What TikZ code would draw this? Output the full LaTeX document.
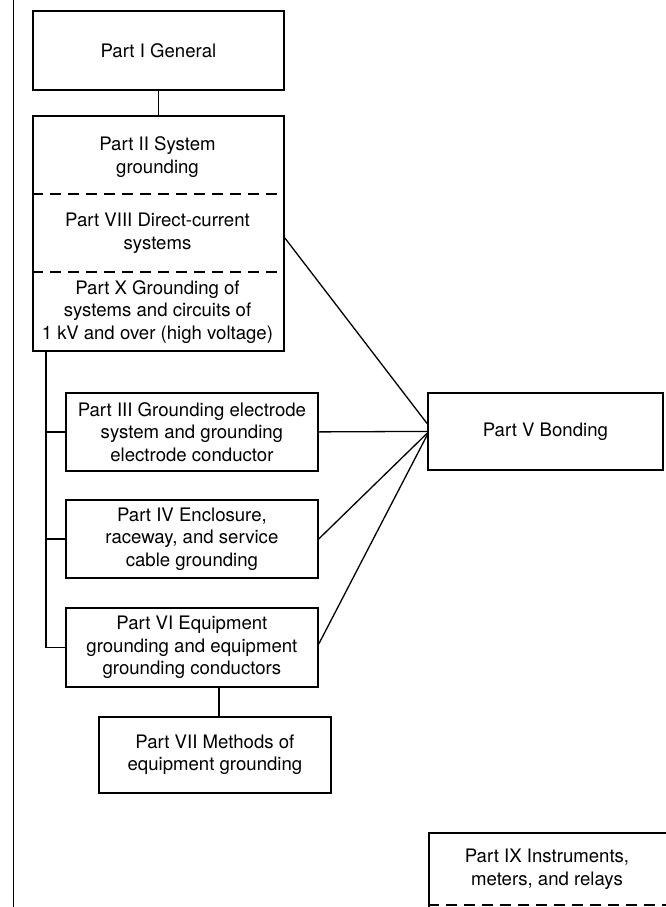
\documentclass[tikz,border=0pt]{standalone}
\usepackage{fontspec}
\setmainfont{TeX Gyre Heros}
\begin{document}
\begin{tikzpicture}[x=1pt,y=-1pt,
  box/.style={draw, line width=1.8pt, rectangle, inner sep=0pt},
  txt/.style={align=center, inner sep=0pt, font=\fontsize{18.6}{22.5}\selectfont},
  conn/.style={line width=1.3pt},
  divider/.style={line width=1.4pt, dash pattern=on 11pt off 7pt}]
\useasboundingbox (0,0) rectangle (665,907);
% left margin line
\coordinate (lt) at (13,0);
\coordinate (lb) at (13,907);
\draw[line width=0.9pt] (lt) -- (lb);
% Part I
\node[box, minimum width=251pt, minimum height=79pt, anchor=north west] (p1) at (32,10) {};
\node[txt] (t1) at (p1.center) {Part I General};
% Part II / VIII / X combined box
\node[box, minimum width=251pt, minimum height=235pt, anchor=north west] (p2) at (32,115) {};
\coordinate (d1a) at (32,194); \coordinate (d1b) at (283,194);
\coordinate (d2a) at (32,272); \coordinate (d2b) at (283,272);
\draw[divider] (d1a) -- (d1b);
\draw[divider] (d2a) -- (d2b);
\node[txt] (t2) at (157.5,157) {Part II System\\grounding};
\node[txt] (t8) at (157.5,233) {Part VIII Direct-current\\systems};
\node[txt] (t10) at (157.5,312) {Part X Grounding of\\systems and circuits of\\1 kV and over (high voltage)};
% Part III, IV, VI
\node[box, minimum width=252pt, minimum height=78pt, anchor=north west] (p3) at (65,392) {};
\node[txt] (t3) at (p3.center) {Part III Grounding electrode\\system and grounding\\electrode conductor};
\node[box, minimum width=252pt, minimum height=78pt, anchor=north west] (p4) at (65,499) {};
\node[txt] (t4) at (p4.center) {Part IV Enclosure,\\raceway, and service\\cable grounding};
\node[box, minimum width=252pt, minimum height=79pt, anchor=north west] (p6) at (65,607) {};
\node[txt] (t6) at (p6.center) {Part VI Equipment\\grounding and equipment\\grounding conductors};
% Part VII
\node[box, minimum width=232pt, minimum height=76pt, anchor=north west] (p7) at (98,716) {};
\node[txt] (t7) at (p7.center) {Part VII Methods of\\equipment grounding};
% Part V
\node[box, minimum width=235pt, minimum height=77pt, anchor=north west] (p5) at (427,392) {};
\node[txt] (t5) at (p5.center) {Part V Bonding};
% Part IX (cut off by page)
\node[box, minimum width=238pt, minimum height=95pt, anchor=north west] (p9) at (428,832) {};
\node[txt] (t9) at (547,869) {Part IX Instruments,\\meters, and relays};
\coordinate (d9a) at (428,905); \coordinate (d9b) at (666,905);
\draw[divider] (d9a) -- (d9b);
% connectors
\draw[conn] (p1.south) -- (p2.north);
\coordinate (br) at (46,350);
\draw[conn] (br) |- (p6.west);
\draw[conn] (br |- p3.west) -- (p3.west);
\draw[conn] (br |- p4.west) -- (p4.west);
\draw[conn] ([xshift=27pt]p6.south) -- ([xshift=27pt]p6.south |- p7.north);
\draw[conn] ([yshift=-4.5pt]p2.east) -- ([yshift=8pt]p5.west);
\draw[conn] (p3.east) -- (p5.west);
\draw[conn] (p4.east) -- ([yshift=-2pt]p5.west);
\draw[conn] ([yshift=3.5pt]p6.east) -- ([yshift=-4pt]p5.west);
\end{tikzpicture}
\end{document}
